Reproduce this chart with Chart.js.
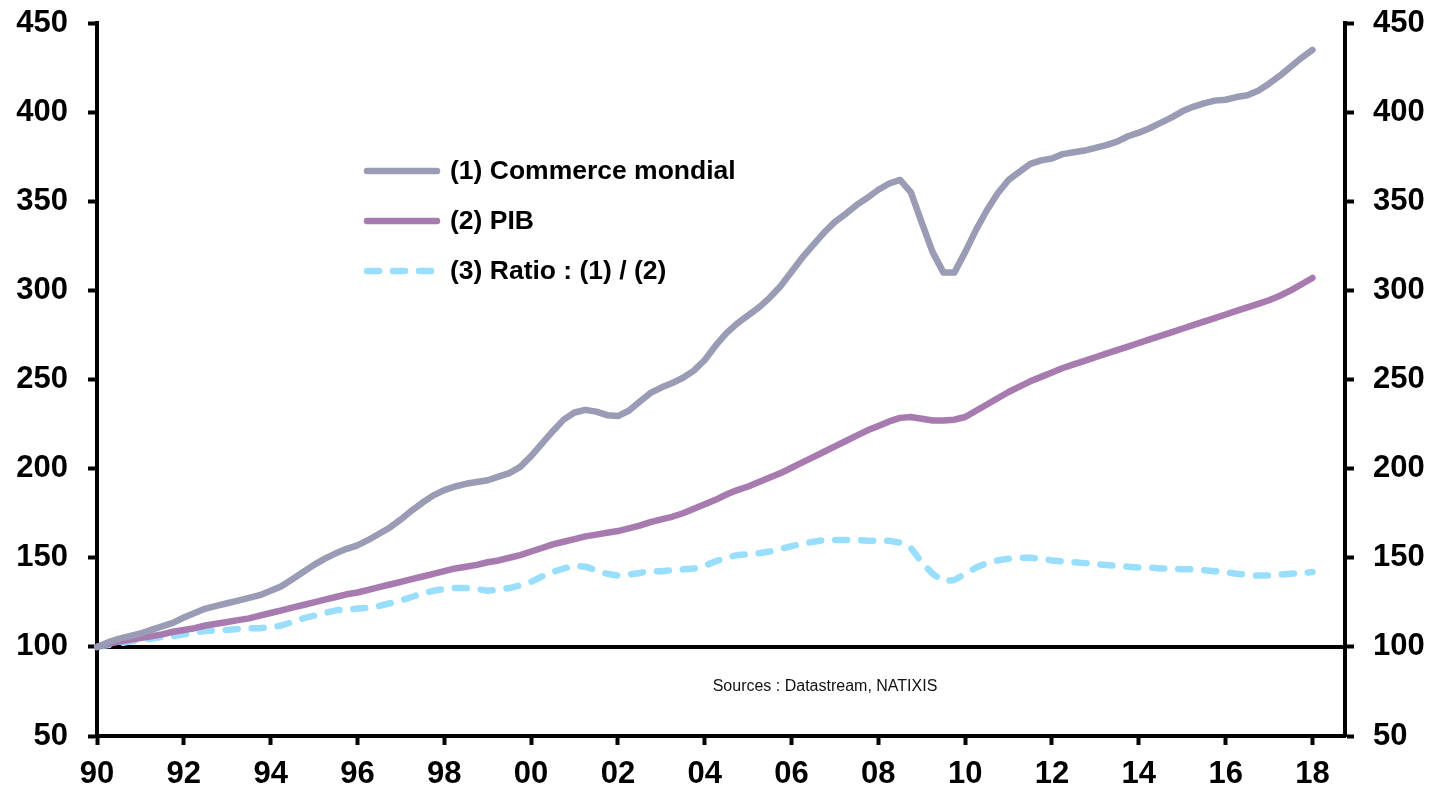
<!DOCTYPE html>
<html>
<head>
<meta charset="utf-8">
<script src="https://cdn.jsdelivr.net/npm/chart.js@4/dist/chart.umd.min.js"></script>
<style>
  html, body { margin: 0; padding: 0; background: #fff; }
  canvas { display: block; }
</style>
</head>
<body>
<canvas id="c" width="1433" height="793"></canvas>
<script>
// trimestres 1990T1 .. 2018T4 (l'axe va jusqu'a fin 2018, les donnees s'arretent au 2018T1)
const quarters = [];
for (let y = 1990; y <= 2018; y++) for (let q = 1; q <= 4; q++) quarters.push(y + "T" + q);

const tickYears = ["90", "92", "94", "96", "98", "00", "02", "04", "06", "08", "10", "12", "14", "16", "18"];
const yTicks = [50, 100, 150, 200, 250, 300, 350, 400, 450];

// (1) Commerce mondial, base 100 en 1990
const commerce = [
  100, 102.5, 104.5, 106, 107.5, 109.5, 111.5, 113.5, // 90-91
  116.5, 119, 121.5, 123, 124.5, 126, 127.5, 129, // 92-93
  131.5, 134, 138, 142, 146, 149.5, 152.5, 155, // 94-95
  157, 160, 163.5, 167, 171.5, 176.5, 181, 185, // 96-97
  188, 190, 191.5, 192.5, 193.5, 195.5, 197.5, 201, // 98-99
  207, 214, 221, 227.5, 231.5, 233, 232, 230, // 00-01
  229.5, 232.5, 237.5, 242.5, 245.5, 248, 251, 255, // 02-03
  261, 269, 276, 281.5, 286, 290.5, 296, 302.5, // 04-05
  310.5, 318.5, 325.5, 332.5, 338.5, 343, 348, 352, // 06-07
  356.5, 360, 362, 355, 338, 321.5, 310, 310, // 08-09
  321.5, 334, 345, 354.5, 362, 366.5, 371, 373, // 10-11
  374, 376.5, 377.5, 378.5, 380, 381.5, 383.5, 386.5, // 12-13
  388.5, 391, 394, 397, 400.5, 403, 405, 406.5, // 14-15
  407, 408.5, 409.5, 412, 416, 420.5, 425.5, 430.5, // 16-17
  435
];

// (2) PIB
const pib = [
  100, 101.5, 103, 104, 105, 106, 107, 108.5,
  109.5, 110.5, 112, 113, 114, 115, 116, 117.5,
  119, 120.5, 122, 123.5, 125, 126.5, 128, 129.5,
  130.5, 132, 133.5, 135, 136.5, 138, 139.5, 141,
  142.5, 144, 145, 146, 147.5, 148.5, 150, 151.5,
  153.5, 155.5, 157.5, 159, 160.5, 162, 163, 164,
  165, 166.5, 168, 170, 171.5, 173, 175, 177.5,
  180, 182.5, 185.5, 188, 190, 192.5, 195, 197.5,
  200.5, 203.5, 206.5, 209.5, 212.5, 215.5, 218.5, 221.5,
  224, 226.5, 228.5, 229, 228, 227, 227, 227.5,
  229, 232.5, 236, 239.5, 243, 246, 249, 251.5,
  254, 256.5, 258.5, 260.5, 262.5, 264.5, 266.5, 268.5,
  270.5, 272.5, 274.5, 276.5, 278.5, 280.5, 282.5, 284.5,
  286.5, 288.5, 290.5, 292.5, 294.5, 297, 300, 303.5,
  307
];

// (3) Ratio : (1) / (2)
const ratio = [
  100, 101, 102, 103, 104, 104.5, 105.5, 106,
  107, 108, 109, 109, 109.5, 110, 110.5, 110.5,
  111, 112, 114, 116, 117.5, 119, 120.5, 121,
  121.5, 122, 123, 124.5, 126, 128, 130, 131.5,
  132.5, 133, 133, 132.5, 131.5, 132, 133, 134.5,
  136.5, 139.5, 142, 144, 145.5, 145, 143, 141,
  140, 140.5, 141.5, 142.5, 142.5, 143, 143.5, 144,
  145.5, 148, 150, 151.5, 152, 152.5, 153.5, 155,
  156.5, 158, 159, 160, 160, 160, 160, 159.5,
  159.5, 159.5, 158.5, 155.5, 147.5, 141, 137, 137.5,
  141, 144.5, 147, 148.5, 149.5, 150, 150, 149.5,
  148.5, 148, 147.5, 147, 146.5, 146, 145.5, 145,
  144.5, 144.5, 144, 144, 143.5, 143.5, 143, 142.5,
  142, 141, 140.5, 140, 140, 140.5, 141, 141.5,
  142
];

const FONT = "'Liberation Sans', Arial, sans-serif";

const refLinePlugin = {
  id: "refLine",
  beforeDatasetsDraw(chart) {
    const { ctx, chartArea } = chart;
    const y = chart.scales.y.getPixelForValue(100);
    ctx.save();
    ctx.strokeStyle = "#000";
    ctx.lineWidth = 4;
    ctx.beginPath();
    ctx.moveTo(chartArea.left, y);
    ctx.lineTo(chartArea.right, y);
    ctx.stroke();

    ctx.fillStyle = "#111";
    ctx.font = "16px " + FONT;
    ctx.textAlign = "center";
    ctx.textBaseline = "middle";
    ctx.fillText("Sources : Datastream, NATIXIS", chartArea.left + 728, y + 40);
    ctx.restore();
  },
};

const legendPlugin = {
  id: "innerLegend",
  afterDatasetsDraw(chart) {
    const { ctx, chartArea } = chart;
    const x0 = chartArea.left + 270;
    ctx.save();
    ctx.font = "bold 26.5px " + FONT;
    ctx.textBaseline = "middle";
    ctx.textAlign = "left";
    chart.data.datasets.forEach((ds, i) => {
      const y = chartArea.top + 148 + i * 50;
      ctx.strokeStyle = ds.borderColor;
      ctx.lineWidth = 6.5;
      ctx.lineCap = "round";
      ctx.setLineDash(ds.borderDash || []);
      ctx.beginPath();
      ctx.moveTo(x0, y);
      ctx.lineTo(x0 + 70, y);
      ctx.stroke();
      ctx.setLineDash([]);
      ctx.fillStyle = "#000";
      ctx.fillText(ds.label, x0 + 83, y + 1);
    });
    ctx.restore();
  },
};

const axisGrid = {
  display: true,
  drawOnChartArea: false,
  drawTicks: true,
  tickLength: 9,
  tickWidth: 4,
  tickColor: "#000",
};

const tickFont = { family: FONT, size: 31, weight: "bold" };
// hauteur de ligne reduite : le debordement du libelle 450 ne repousse plus le haut du graphique
const yTickFont = { family: FONT, size: 31, weight: "bold", lineHeight: 0.2 };

new Chart(document.getElementById("c"), {
  type: "line",
  data: {
    labels: quarters,
    datasets: [
      {
        label: "(1) Commerce mondial",
        data: commerce,
        borderColor: "#9a9bb4",
        borderWidth: 6.5,
        pointRadius: 0,
        tension: 0,
        borderJoinStyle: "round",
        borderCapStyle: "round",
      },
      {
        label: "(2) PIB",
        data: pib,
        borderColor: "#a87bb0",
        borderWidth: 6.5,
        pointRadius: 0,
        tension: 0,
        borderJoinStyle: "round",
        borderCapStyle: "round",
      },
      {
        label: "(3) Ratio : (1) / (2)",
        data: ratio,
        borderColor: "#99dffd",
        borderWidth: 6.5,
        borderDash: [12, 14],
        pointRadius: 0,
        tension: 0,
        borderJoinStyle: "round",
        borderCapStyle: "round",
      },
    ],
  },
  options: {
    responsive: false,
    animation: false,
    layout: { padding: { top: 0, left: 0, right: 0, bottom: 0 } },
    plugins: {
      legend: { display: false },
      tooltip: { enabled: false },
    },
    scales: {
      x: {
        type: "category",
        offset: false,
        grid: axisGrid,
        border: { display: true, color: "#000", width: 4 },
        afterFit(scale) { scale.height = 57; },
        ticks: {
          autoSkip: false,
          maxRotation: 0,
          padding: 11,
          color: "#000",
          font: tickFont,
          callback(val) {
            const lab = this.getLabelForValue(val);
            const yr = lab.slice(0, 4);
            if (!lab.endsWith("T1")) return null;
            const short = yr.slice(2);
            return tickYears.includes(short) && Number(yr) % 2 === 0 ? short : null;
          },
        },
      },
      y: {
        position: "left",
        min: yTicks[0],
        max: yTicks[yTicks.length - 1],
        grid: axisGrid,
        border: { display: true, color: "#000", width: 4 },
        afterFit(scale) { scale.width = 97; },
        ticks: {
          stepSize: 50,
          padding: 20,
          color: "#000",
          font: yTickFont,
        },
      },
      y2: {
        position: "right",
        min: yTicks[0],
        max: yTicks[yTicks.length - 1],
        grid: axisGrid,
        border: { display: true, color: "#000", width: 4 },
        afterFit(scale) { scale.width = 88; },
        ticks: {
          stepSize: 50,
          padding: 19,
          color: "#000",
          font: yTickFont,
        },
      },
    },
  },
  plugins: [refLinePlugin, legendPlugin],
});
</script>
</body>
</html>
